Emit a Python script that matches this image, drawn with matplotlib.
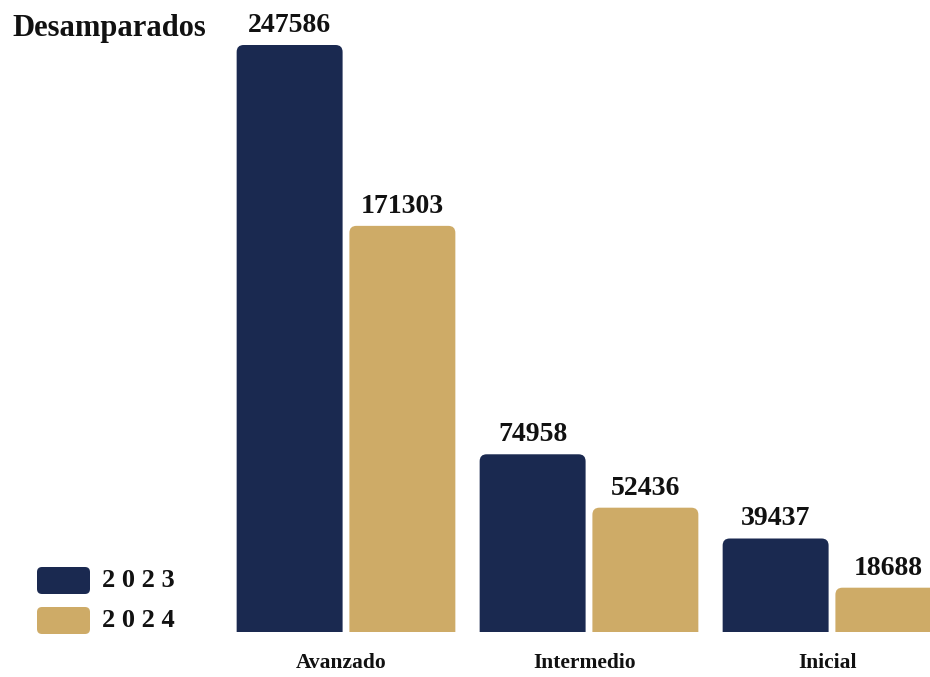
import matplotlib
matplotlib.use("Agg")
import matplotlib.pyplot as plt
from matplotlib.patches import FancyBboxPatch
import numpy as np

categories = ["Avanzado", "Intermedio", "Inicial"]
years = ["2023", "2024"]
values_2023 = [247586, 74958, 39437]
values_2024 = [171303, 52436, 18688]
title = "Desamparados"

navy = "#1A2950"
gold = "#CEAB67"
FONT = ["Liberation Serif", "DejaVu Serif"]

W, H = 930, 677
fig = plt.figure(figsize=(W / 100, H / 100), dpi=100)
fig.patch.set_facecolor("white")

# axes: full width, bottom at 632px from top
ax = fig.add_axes([0, 45 / H, 1, 1 - 45 / H])
group_px = 243.0
center0_px = 346.0
ax.set_xlim(-center0_px / group_px, (W - center0_px) / group_px)
ymax = 247586 * 632 / 587
ax.set_ylim(0, ymax)
ax.axis("off")

x = np.arange(len(categories))
bw = 0.436
off = 0.232
bars_a = ax.bar(x - off, values_2023, bw, color=navy)
bars_b = ax.bar(x + off, values_2024, bw, color=gold)

# replace bars by rounded-top versions
ax_h_px = 632.0
px_x = 1 / group_px
px_y = ymax / ax_h_px
r_px = 7
aspect = px_y / px_x
for bars in (bars_a, bars_b):
    for b in bars:
        b.set_visible(False)
        xb, yb = b.get_x(), b.get_y()
        wb, hb = b.get_width(), b.get_height()
        ext = 20 * px_y
        p = FancyBboxPatch((xb, yb - ext), wb, hb + ext,
                           boxstyle=f"round,pad=0,rounding_size={r_px * px_x}",
                           mutation_aspect=aspect,
                           facecolor=b.get_facecolor(), edgecolor="none")
        ax.add_patch(p)
        ax.annotate(f"{int(hb)}", (xb + wb / 2, hb), xytext=(0, 7),
                    textcoords="offset pixels", ha="center", va="bottom",
                    fontsize=20, fontweight="bold", family=FONT, color="#111111")

# category labels
for xi, c in zip(x, categories):
    ax.annotate(c, (xi - 0.02, 0), xytext=(0, -31), textcoords="offset pixels",
                ha="center", va="center", fontsize=15.5, fontweight="bold",
                family=FONT, color="#111111", annotation_clip=False)

# title
fig.text(12 / W, 1 - 36 / H, title, fontsize=22, fontweight="bold",
         family=FONT, color="#111111", ha="left", va="baseline")

# legend (manual, rounded handles)
for i, (yr, col) in enumerate(zip(years, [navy, gold])):
    top = 567 + i * 40
    lp = FancyBboxPatch((37 / W, 1 - (top + 27) / H), 53 / W, 27 / H,
                        boxstyle=f"round,pad=0,rounding_size={5 / W}",
                        mutation_aspect=W / H, transform=fig.transFigure,
                        facecolor=col, edgecolor="none")
    fig.add_artist(lp)
    fig.text(102 / W, 1 - (top + 13.5) / H, " ".join(yr), fontsize=19,
             fontweight="bold", family=FONT, color="#111111",
             ha="left", va="center")

fig.savefig("out.png", dpi=100, facecolor="white")
